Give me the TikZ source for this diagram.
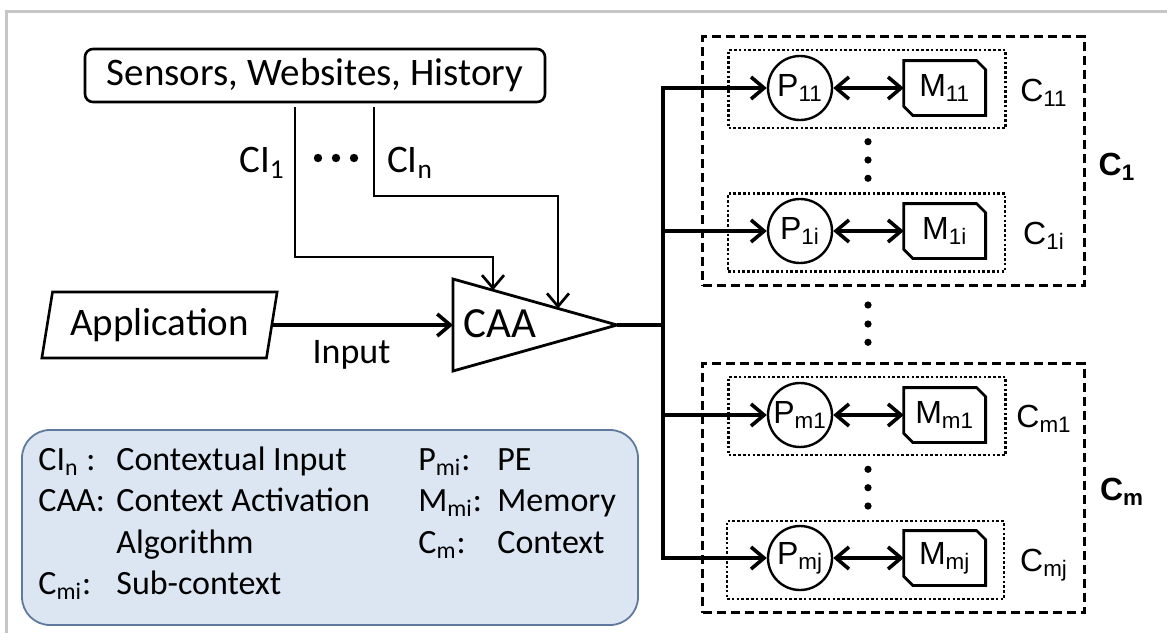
\documentclass[tikz,border=0pt]{standalone}
\usepackage{fontspec}
\setmainfont{Carlito}
\newfontfamily\arialfont{Liberation Sans}
\usetikzlibrary{arrows.meta,calc,shapes.geometric}

\definecolor{keyfill}{RGB}{220,230,242}
\definecolor{keyline}{RGB}{95,122,158}
\definecolor{framegray}{RGB}{198,198,198}
\newcommand{\lo}[1]{\textsubscript{#1}}
\newcommand{\bigtext}{\fontsize{19.5}{23}\selectfont}
\newcommand{\midtext}{\fontsize{18}{21}\selectfont}
\newcommand{\keytext}{\fontsize{17}{20.8}\selectfont}
\newcommand{\rtext}{\arialfont\fontsize{16}{19}\selectfont}
% memory outline, cut at the upper right and lower left corners
\newcommand{\chamfer}[1]{\draw [line width=1.4pt, line join=miter] (#1.north west) -- ([xshift=-4.5pt]#1.north east) -- ([yshift=-4.5pt]#1.north east) -- (#1.south east) -- ([xshift=4.5pt]#1.south west) -- ([yshift=4.5pt]#1.south west) -- cycle;}

\begin{document}
\begin{tikzpicture}[x=0.5pt,y=-0.5pt,
    every node/.style={inner sep=0pt},
    wire/.style={line width=1.35pt},
    feed/.style={line width=1.8pt},
    bus/.style={line width=2.1pt, line cap=rect},
    tip/.style={-{Straight Barb[length=6.5pt,width=11pt]}},
    dtip/.style={{Straight Barb[length=6.5pt,width=11pt]}-{Straight Barb[length=6.5pt,width=11pt]}},
    pe/.style={circle, draw, line width=1.2pt, minimum size=32pt, font=\rtext},
    mem/.style={rectangle, minimum width=40.5pt, minimum height=27pt, font=\rtext},
    subbox/.style={draw, line width=1.4pt, dash pattern=on 1.3pt off 1.1pt,
        minimum width=138.5pt, minimum height=39pt},
    ctxbox/.style={draw, line width=1.5pt, dash pattern=on 4.5pt off 2.5pt,
        minimum width=190.8pt, minimum height=124.5pt},
    clab/.style={anchor=base, font=\rtext},
    ctxlab/.style={anchor=base, font=\rtext\bfseries}]
\useasboundingbox (0,0) rectangle (1167,633);
\draw [framegray, line width=1.5pt] (6.7,633) -- (6.7,11.7) -- (1167,11.7);

% sources and application
\node [draw, rounded corners=4pt, line width=1.3pt, minimum width=230pt, minimum height=26.5pt, font=\bigtext] (src) at (315,75.5) {Sensors, Websites, History};
\node [trapezium, trapezium left angle=75, trapezium right angle=105, trapezium stretches,
    draw, line width=1.3pt, minimum width=118.5pt, minimum height=33pt, font=\bigtext] (app) at (159.5,325) {Application};

% CAA triangle
\coordinate (caaA) at (453,279);
\coordinate (caaB) at (453,371);
\coordinate (caaC) at (617,325);
\draw [line width=1.4pt] (caaA) -- (caaC) -- (caaB) -- cycle;
\node [anchor=base, font=\fontsize{21.5}{25}\selectfont] (caa) at (500,337) {CAA};
\coordinate (tri1) at ($(caaA)!0.2439!(caaC)$);
\coordinate (tri2) at ($(caaA)!0.6402!(caaC)$);
\coordinate (triin) at ($(caaA)!0.5!(caaB)$);

% contextual inputs
\coordinate (ci1) at (295,107);
\coordinate (cin) at (374,107);
\draw [wire, tip] (ci1) -- (295,257) -| (tri1);
\draw [wire, tip] (cin) -- (374,196) -| (tri2);
\node [anchor=base, font=\bigtext] (ci1lab) at (262,172) {CI\lo{1}};
\node [anchor=base, font=\bigtext] (cinlab) at (410,172) {CI\lo{n}};
\fill (318,158) circle (2.1pt) (336,158) circle (2.1pt) (354,158) circle (2.1pt);

\draw [feed, tip] (app.east) -- (triin);
\node [anchor=base, font=\midtext] (inlab) at (351.5,363) {Input};

% contexts
\node [ctxbox] (ctx1) at (893.5,161.2) {};
\node [ctxbox] (ctxm) at (893.5,488) {};
\node [subbox] (c11) at (867,89) {};
\node [subbox] (c1i) at (866.5,232.5) {};
\node [subbox] (cm1) at (867,416) {};
\node [subbox] (cmj) at (865.5,560) {};

\node [pe] (p11) at (800,88) {P\lo{11}};
\node [pe] (p1i) at (800,231) {P\lo{1i}};
\node [pe] (pm1) at (800,415) {P\lo{m1}};
\node [pe] (pmj) at (800,558) {P\lo{mj}};
\node [mem] (m11) at (944.7,88) {M\lo{11}};
\node [mem] (m1i) at (944.7,231) {M\lo{1i}};
\node [mem] (mm1) at (944.7,415) {M\lo{m1}};
\node [mem] (mmj) at (944.7,558) {M\lo{mj}};
\chamfer{m11}
\chamfer{m1i}
\chamfer{mm1}
\chamfer{mmj}
\draw [feed, dtip] (p11) -- (m11);
\draw [feed, dtip] (p1i) -- (m1i);
\draw [feed, dtip] (pm1) -- (mm1);
\draw [feed, dtip] (pmj) -- (mmj);

\node [clab] (l11) at (1044,101) {C\lo{11}};
\node [clab] (l1i) at (1044,244) {C\lo{1i}};
\node [clab] (lm1) at (1044,427) {C\lo{m1}};
\node [clab] (lmj) at (1044,571) {C\lo{mj}};
\node [ctxlab] (lc1) at (1117,175) {C\lo{1}};
\node [ctxlab] (lcm) at (1122,500) {C\lo{m}};

\fill (868,141.7) circle (1.8pt) (868,160) circle (1.8pt) (868,178.3) circle (1.8pt);
\fill (868,305) circle (1.8pt) (868,324) circle (1.8pt) (868,342.3) circle (1.8pt);
\fill (868,469.3) circle (1.8pt) (868,487.7) circle (1.8pt) (868,506) circle (1.8pt);

% activation bus
\coordinate (split) at (663,325);
\draw [feed] (caaC) -- (split);
\draw [bus] (split |- p11) -- (split |- pmj);
\draw [feed, tip] (split |- p11) -- (p11);
\draw [feed, tip] (split |- p1i) -- (p1i);
\draw [feed, tip] (split |- pm1) -- (pm1);
\draw [feed, tip] (split |- pmj) -- (pmj);

% legend
\node [draw=keyline, fill=keyfill, line width=0.9pt, rounded corners=14pt,
    minimum width=308pt, minimum height=97.5pt] (key) at (330,527.5) {};
\node [anchor=base west, font=\keytext] (keytext) at (38,470) {%
  \begin{tabular}[t]{@{}p{39pt}@{}p{151pt}@{}p{39.5pt}@{}l@{}}
    CI\lo{n} : & Contextual Input & P\lo{mi}: & PE \\
    CAA: & Context Activation & M\lo{mi}: & Memory \\
     & Algorithm & C\lo{m}: & Context \\
    C\lo{mi}: & Sub-context & & \\
  \end{tabular}};
\end{tikzpicture}
\end{document}
